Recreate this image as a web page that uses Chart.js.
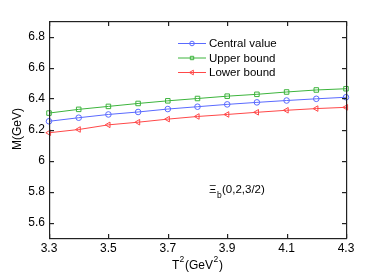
<!DOCTYPE html>
<html>
<head>
<meta charset="utf-8">
<script src="https://cdn.jsdelivr.net/npm/chart.js@4.4.0/dist/chart.umd.min.js"></script>
<style>
  html, body { margin: 0; padding: 0; background: #fff; }
  #wrap { width: 382px; height: 273px; }
</style>
</head>
<body>
<div id="wrap"><canvas id="massChart" width="382" height="273"></canvas></div>
<script>
// T^2 values (GeV^2)
const t2 = [3.3, 3.4, 3.5, 3.6, 3.7, 3.8, 3.9, 4.0, 4.1, 4.2, 4.3];
// masses (GeV)
const central = [6.253, 6.276, 6.297, 6.313, 6.332, 6.347, 6.362, 6.375, 6.387, 6.398, 6.408];
const upper = [6.306, 6.330, 6.349, 6.368, 6.385, 6.400, 6.415, 6.427, 6.442, 6.455, 6.463];
const lower = [6.179, 6.200, 6.230, 6.247, 6.267, 6.284, 6.297, 6.311, 6.324, 6.335, 6.343];
const xTicks = [3.3, 3.5, 3.7, 3.9, 4.1, 4.3];
const yTicks = [5.6, 5.8, 6.0, 6.2, 6.4, 6.6, 6.8];

const FONT = 'Liberation Sans, Arial, Helvetica, sans-serif';

const series = [
  { label: 'Central value', data: central, color: '#5a6aff', style: 'circle', radius: 2.8, legR: 2.3, rot: 0 },
  { label: 'Upper bound', data: upper, color: '#3cb43c', style: 'rect', radius: 3.2, legR: 2.4, rot: 0 },
  { label: 'Lower bound', data: lower, color: '#ff4848', style: 'triangle', radius: 3.2, legR: 2.7, rot: -90 }
];

// box, inward ticks, legend and label text
const framePlugin = {
  id: 'frame',
  afterDraw(chart) {
    const ctx = chart.ctx;
    const a = chart.chartArea;
    const x = chart.scales.x, y = chart.scales.y;
    ctx.save();
    ctx.fillStyle = '#222';
    const L = Math.round(a.left), R = Math.round(a.right);
    const T = Math.round(a.top), B = Math.round(a.bottom);
    ctx.fillRect(L, T, R - L + 1, 1.2);
    ctx.fillRect(L, B, R - L + 1, 1.2);
    ctx.fillRect(L, T, 1.2, B - T + 1);
    ctx.fillRect(R, T, 1.2, B - T + 1);
    xTicks.forEach(v => {
      const px = Math.round(x.getPixelForValue(v));
      ctx.fillRect(px, B - 4, 1.2, 4);
      ctx.fillRect(px, T + 1, 1.2, 4);
    });
    yTicks.forEach(v => {
      const py = Math.round(y.getPixelForValue(v));
      ctx.fillRect(L + 1, py, 4, 1.2);
      ctx.fillRect(R - 4, py, 4, 1.2);
    });

    // legend
    ctx.font = '11.5px ' + FONT;
    ctx.textBaseline = 'middle';
    ctx.textAlign = 'left';
    series.forEach((s, i) => {
      const ly = 43.5 + i * 14.5;
      ctx.strokeStyle = s.color;
      ctx.fillStyle = 'rgba(0,0,0,0)';
      ctx.lineWidth = 1;
      ctx.beginPath();
      ctx.moveTo(178, ly); ctx.lineTo(206, ly);
      ctx.stroke();
      Chart.helpers.drawPoint(ctx, { pointStyle: s.style, radius: s.legR, rotation: s.rot, borderWidth: 1 }, 192, ly);
      ctx.fillStyle = '#000';
      ctx.fillText(s.label, 209, ly + 0.5);
    });

    // annotation
    ctx.fillStyle = '#000';
    ctx.font = '11.5px ' + FONT;
    ctx.fillText('\u039E', 209, 190);
    ctx.font = '8.5px ' + FONT;
    ctx.fillText('b', 217, 196);
    ctx.font = '11.5px ' + FONT;
    ctx.fillText('(0,2,3/2)', 222, 190);

    // axis labels
    ctx.font = '12px ' + FONT;
    ctx.fillText('T', 172, 266);
    ctx.font = '8.5px ' + FONT;
    ctx.fillText('2', 179.5, 260);
    ctx.font = '12px ' + FONT;
    ctx.fillText('(GeV', 185, 266);
    ctx.font = '8.5px ' + FONT;
    ctx.fillText('2', 213.5, 260);
    ctx.font = '12px ' + FONT;
    ctx.fillText(')', 219, 266);

    ctx.translate(18, 129);
    ctx.rotate(-Math.PI / 2);
    ctx.textAlign = 'center';
    ctx.font = '12px ' + FONT;
    ctx.fillText('M(GeV)', 0, 0);
    ctx.restore();
  }
};

new Chart(document.getElementById('massChart'), {
  type: 'line',
  data: {
    datasets: series.map(s => ({
      label: s.label,
      data: t2.map((v, i) => ({ x: v, y: s.data[i] })),
      borderColor: s.color,
      backgroundColor: 'rgba(0,0,0,0)',
      borderWidth: 1,
      pointStyle: s.style,
      pointRadius: s.radius,
      pointRotation: s.rot,
      pointBorderWidth: 1,
      pointBorderColor: s.color,
      pointBackgroundColor: 'rgba(0,0,0,0)',
      tension: 0,
      fill: false,
      clip: 6
    }))
  },
  options: {
    responsive: false,
    animation: false,
    layout: { padding: { left: 0, top: 21, right: 36, bottom: 0 } },
    plugins: { legend: { display: false }, tooltip: { enabled: false } },
    scales: {
      x: {
        type: 'linear',
        min: 3.3,
        max: 4.3,
        grid: { display: false, drawTicks: false },
        border: { display: false },
        afterBuildTicks: s => { s.ticks = xTicks.map(v => ({ value: v })); },
        afterFit: s => { s.height = 35; },
        ticks: {
          color: '#000',
          padding: 3,
          maxRotation: 0,
          font: { family: FONT, size: 12 },
          callback: v => v.toFixed(1)
        }
      },
      y: {
        min: 5.5,
        max: 6.9,
        grid: { display: false, drawTicks: false },
        border: { display: false },
        afterBuildTicks: s => { s.ticks = yTicks.map(v => ({ value: v })); },
        afterFit: s => { s.width = 49; },
        ticks: {
          color: '#000',
          padding: 4,
          font: { family: FONT, size: 12 },
          callback: v => (Math.abs(v - 6) < 1e-9 ? '6' : v.toFixed(1))
        }
      }
    }
  },
  plugins: [framePlugin]
});
</script>
</body>
</html>
